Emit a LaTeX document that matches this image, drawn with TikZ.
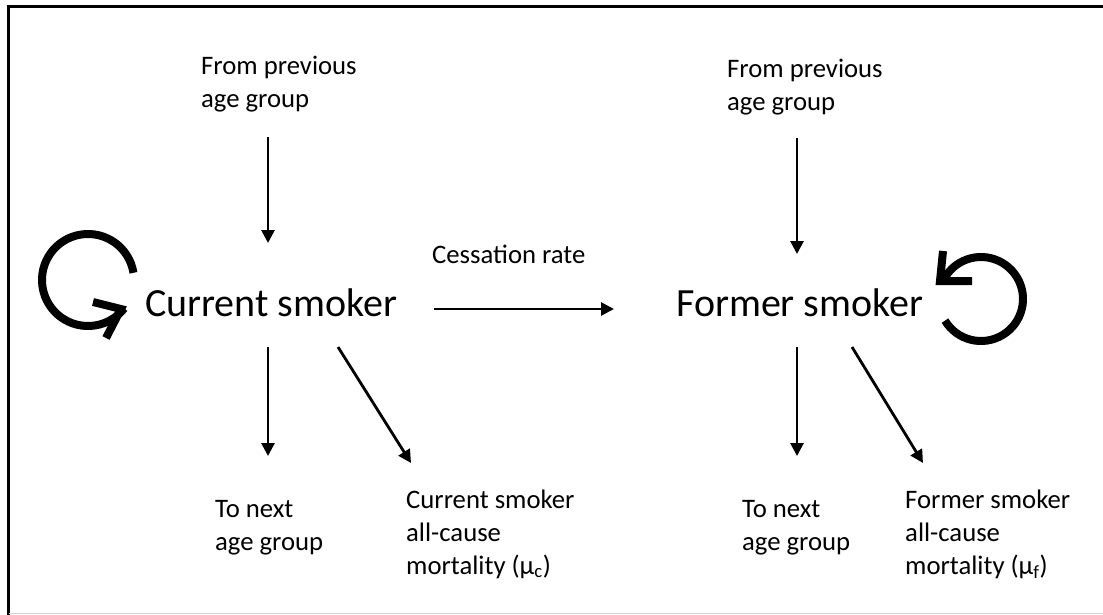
\documentclass[tikz,border=0pt]{standalone}
\usepackage{fontspec}
\setmainfont{Carlito}
\usetikzlibrary{arrows.meta}
\begin{document}
\begin{tikzpicture}[x=1pt,y=-1pt,
  lbl/.style={font=\fontsize{26.7}{33}\selectfont, align=left, anchor=base west, inner sep=0pt},
  big/.style={font=\fontsize{40}{48}\selectfont, anchor=base west, inner sep=0pt},
  flow/.style={line width=2.8pt, -{Triangle[length=13pt,width=13pt]}},
  loopline/.style={line width=8pt},
  barb/.style={line width=8pt, line join=miter},
  frame/.style={line width=2.5pt}
]
\useasboundingbox (0,0) rectangle (1103,615);
\draw[frame] (1103,6.5) -- (8.5,6.5) -- (8.5,615);
\draw[gray!35, line width=1pt] (8.5,613.5) -- (1103,613.5);

% texts (base anchor = baseline of the last line)
\node[lbl] (fromL) at (201,108) {From previous\\age group};
\node[lbl] (fromR) at (727,111) {From previous\\age group};
\node[lbl] (cess) at (432,263) {Cessation rate};
\node[big] (cur) at (145,316) {Current smoker};
\node[big] (form) at (676,316) {Former smoker};
\node[lbl] (nextL) at (215,550) {To next\\age group};
\node[lbl] (mortC) at (406,574) {Current smoker\\all-cause\\mortality (μ\textsubscript{c})};
\node[lbl] (nextR) at (742,550) {To next\\age group};
\node[lbl] (mortF) at (905,574) {Former smoker\\all-cause\\mortality (μ\textsubscript{f})};

% arrow end points
\coordinate (a1s) at (268,137); \coordinate (a1e) at (268,243);
\coordinate (a2s) at (797,138); \coordinate (a2e) at (797,254);
\coordinate (hs) at (434,309);  \coordinate (he) at (614,309);
\coordinate (d1s) at (268,347); \coordinate (d1e) at (268,456);
\coordinate (g1s) at (338,347); \coordinate (g1e) at (411,463);
\coordinate (d2s) at (797,347); \coordinate (d2e) at (797,456);
\coordinate (g2s) at (852,347); \coordinate (g2e) at (923,463);

\draw[flow] (a1s) -- (a1e);
\draw[flow] (a2s) -- (a2e);
\draw[flow] (hs) -- (he);
\draw[flow] (d1s) -- (d1e);
\draw[flow] (g1s) -- (g1e);
\draw[flow] (d2s) -- (d2e);
\draw[flow] (g2s) -- (g2e);

% self loops
\coordinate (cL) at (88,280);
\draw[loopline] (cL) ++(-9:46) arc[start angle=-9, end angle=-322, radius=46];
\draw[barb] (93,302) -- (121,309) -- (106,338);

\coordinate (cR) at (981,299);
\draw[loopline] (cR) ++(149:42) arc[start angle=149, end angle=-155, radius=42];
\draw[barb] (943,251) -- (940,281) -- (972,281);
\end{tikzpicture}
\end{document}
